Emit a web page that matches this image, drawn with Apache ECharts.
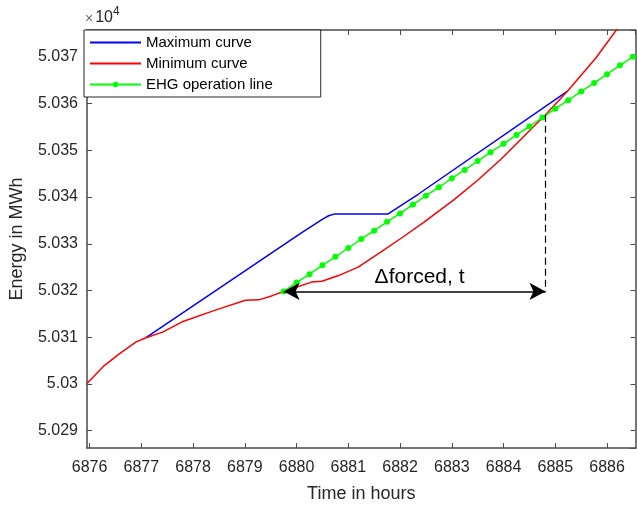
<!DOCTYPE html>
<html>
<head>
<meta charset="utf-8">
<script src="https://cdn.jsdelivr.net/npm/echarts@6/dist/echarts.min.js"></script>
<style>
  html, body { margin: 0; padding: 0; background: #fff; }
  #chart { width: 637px; height: 508px; }
</style>
</head>
<body>
<div id="chart"></div>
<script>
// values (hours, MWh)
const hoursMax = [6877.09, 6880.10, 6880.52, 6880.62, 6880.74, 6881.77, 6882.35, 6885.23];
const energyMax = [50309.9, 50332.4, 50335.4, 50336.0, 50336.4, 50336.4, 50340.6, 50362.6];

const hoursMin = [6875.95, 6876.26, 6876.58, 6876.90, 6877.09, 6877.41, 6877.79, 6878.43, 6879.01, 6879.27,
    6879.53, 6879.75, 6880.29, 6880.49, 6880.81, 6881.19, 6881.64, 6882.05, 6882.47, 6883.05,
    6883.50, 6883.95, 6884.81, 6885.23, 6885.78, 6886.19, 6886.40];
const energyMin = [50300.1, 50303.7, 50306.5, 50309.0, 50309.9, 50311.1, 50313.3, 50315.8, 50317.9, 50318.0,
    50318.9, 50319.8, 50321.8, 50322.0, 50323.2, 50325.0, 50328.3, 50331.4, 50334.7, 50339.5,
    50343.6, 50348.1, 50357.6, 50362.6, 50369.7, 50375.9, 50379.0];

const hoursEhg = [6879.75, 6880.00, 6880.25, 6880.50, 6880.75, 6881.00, 6881.25, 6881.50, 6881.75, 6882.00,
    6882.25, 6882.50, 6882.75, 6883.00, 6883.25, 6883.50, 6883.75, 6884.00, 6884.25, 6884.50,
    6884.75, 6885.00, 6885.25, 6885.50, 6885.75, 6886.00, 6886.25, 6886.50];
const energyEhg = [50319.8, 50321.7, 50323.5, 50325.4, 50327.2, 50329.1, 50331.0, 50332.8, 50334.7, 50336.5,
    50338.4, 50340.3, 50342.1, 50344.0, 50345.8, 50347.7, 50349.6, 50351.4, 50353.3, 50355.1,
    50357.0, 50358.9, 50360.7, 50362.6, 50364.4, 50366.3, 50368.2, 50370.0];

// annotation: forced shift arrow and dashed drop line
const forcedHours = [6879.75, 6884.81];
const forcedEnergy = [50319.8, 50357.6];

const xRange = [6875.95, 6886.55];
const yRange = [50286.3, 50375.75];

const font = "'Liberation Sans', Arial, sans-serif";
const axisCol = '#4a4a4a';

const pairs = (xs, ys) => xs.map((x, i) => [x, ys[i]]);

const yLabel = (v) => {
    if (Math.abs(v / 10 - Math.round(v / 10)) > 1e-6) return '';
    return String(parseFloat((v / 10000).toFixed(4)));
};

const frameAxis = (extra) => Object.assign({
    type: 'value',
    axisLine: { show: true, onZero: false, lineStyle: { color: axisCol, width: 1.5 } },
    axisTick: { show: true, inside: true, length: 5, lineStyle: { color: axisCol, width: 1 } },
    splitLine: { show: false },
    axisLabel: { show: false }
}, extra);

const chart = echarts.init(document.getElementById('chart'), null, { renderer: 'canvas' });

const option = {
    animation: false,
    backgroundColor: '#fff',
    textStyle: { fontFamily: font },
    grid: { left: 84, right: 1.5, top: 30, bottom: 58 },
    legend: {
        data: [
            { name: 'Maximum curve', itemStyle: { opacity: 0 } },
            { name: 'Minimum curve', itemStyle: { opacity: 0 } },
            { name: 'EHG operation line' }
        ],
        orient: 'vertical',
        left: 84,
        top: 30,
        padding: [5, 48, 5, 5],
        itemWidth: 51,
        itemHeight: 7,
        itemGap: 6,
        backgroundColor: '#fff',
        borderColor: '#262626',
        borderWidth: 1,
        borderRadius: 0,
        textStyle: { fontFamily: font, fontSize: 15, color: '#000' }
    },
    xAxis: [
        frameAxis({
            position: 'bottom',
            min: xRange[0], max: xRange[1],
            minInterval: 1, maxInterval: 1, splitNumber: 10,
            name: 'Time in hours',
            nameLocation: 'middle',
            nameGap: 37,
            nameTextStyle: { fontFamily: font, fontSize: 18, color: '#262626' },
            axisLabel: {
                show: true, margin: 12, fontFamily: font, fontSize: 16, color: '#262626',
                showMinLabel: false, showMaxLabel: false,
                formatter: (v) => Math.abs(v - Math.round(v)) > 1e-6 ? '' : String(Math.round(v))
            }
        }),
        frameAxis({
            position: 'top',
            min: xRange[0], max: xRange[1],
            minInterval: 1, maxInterval: 1, splitNumber: 10
        })
    ],
    yAxis: [
        frameAxis({
            position: 'left',
            min: yRange[0], max: yRange[1],
            minInterval: 10, maxInterval: 10, splitNumber: 9,
            name: 'Energy in MWh',
            nameLocation: 'middle',
            nameGap: 61,
            nameTextStyle: { fontFamily: font, fontSize: 18, color: '#262626' },
            axisLabel: {
                show: true, margin: 9, fontFamily: font, fontSize: 16, color: '#262626',
                showMinLabel: false, showMaxLabel: false,
                formatter: yLabel
            }
        }),
        frameAxis({
            position: 'right',
            min: yRange[0], max: yRange[1],
            minInterval: 10, maxInterval: 10, splitNumber: 9
        })
    ],
    graphic: [{
        type: 'text',
        left: 85,
        top: 6,
        style: {
            text: '{a|×}{b|10}{c|4}',
            rich: {
                a: { fontFamily: font, fontSize: 14, fill: '#666', verticalAlign: 'bottom' },
                b: { fontFamily: font, fontSize: 16, fill: '#262626', verticalAlign: 'bottom', padding: [0, 0, 0, 2] },
                c: { fontFamily: font, fontSize: 12, fill: '#262626', verticalAlign: 'top', padding: [0, 0, 8, 0] }
            }
        }
    }],
    series: [
        {
            name: 'Maximum curve',
            type: 'line',
            data: pairs(hoursMax, energyMax),
            symbol: 'none',
            color: '#0000ff',
            lineStyle: { width: 1.5, color: '#0000ff' },
            z: 2
        },
        {
            name: 'Minimum curve',
            type: 'line',
            data: pairs(hoursMin, energyMin),
            symbol: 'none',
            color: '#ff0000',
            lineStyle: { width: 1.5, color: '#ff0000' },
            z: 3
        },
        {
            name: 'EHG operation line',
            type: 'line',
            data: pairs(hoursEhg, energyEhg),
            symbol: 'circle',
            symbolSize: 6,
            showSymbol: true,
            color: '#00ff00',
            itemStyle: { color: '#00ff00', borderWidth: 0 },
            lineStyle: { width: 1.5, color: '#00ff00' },
            z: 4
        },
        {
            name: 'annotation',
            type: 'line',
            data: [],
            z: 5,
            markLine: {
                silent: true,
                animation: false,
                data: [
                    [
                        {
                            coord: [forcedHours[0], forcedEnergy[0]],
                            symbol: 'arrow', symbolSize: [13, 16],
                            lineStyle: { color: '#000', width: 1.5, type: 'solid' },
                            label: {
                                show: true, position: 'insideMiddleTop', distance: 4,
                                formatter: 'Δforced, t', offset: [5, 0],
                                fontFamily: font, fontSize: 21, color: '#000'
                            }
                        },
                        { coord: [forcedHours[1], forcedEnergy[0]], symbol: 'arrow', symbolSize: [13, 16] }
                    ],
                    [
                        {
                            coord: [forcedHours[1], forcedEnergy[1]],
                            symbol: 'none',
                            lineStyle: { color: '#000', width: 1.2, type: [7, 4] },
                            label: { show: false }
                        },
                        { coord: [forcedHours[1], forcedEnergy[0]], symbol: 'none' }
                    ]
                ]
            }
        }
    ]
};

chart.setOption(option);
</script>
</body>
</html>
